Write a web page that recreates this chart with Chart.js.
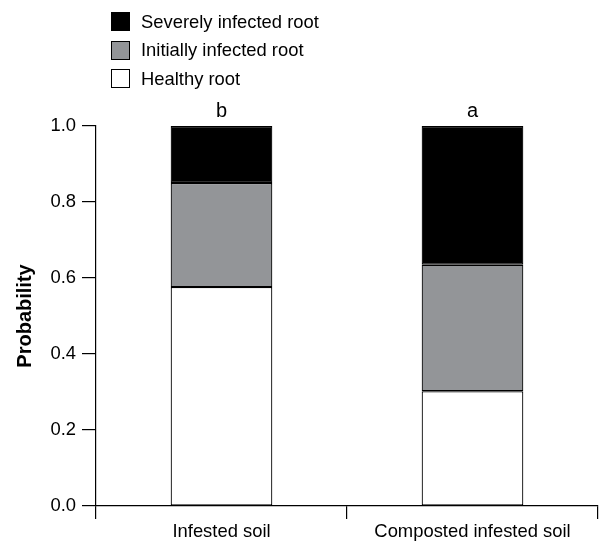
<!DOCTYPE html>
<html>
<head>
<meta charset="utf-8">
<script src="https://cdn.jsdelivr.net/npm/chart.js@4.4.1/dist/chart.umd.min.js"></script>
<style>
  html, body { margin: 0; padding: 0; background: #fff; }
  #wrap { position: relative; width: 601px; height: 543px; }
  #legend { position: absolute; left: 111px; top: 7.5px; font: 18.4px "Liberation Sans", Arial, sans-serif; color: #000; }
  .item { display: flex; align-items: center; height: 28.6px; }
  .box { width: 17px; height: 17px; border: 1px solid #000; margin-right: 11px; }
</style>
</head>
<body>
<div id="wrap">
  <canvas id="chart" width="601" height="543"></canvas>
  <div id="legend"></div>
</div>
<script>
// stacked probabilities
const categories = ["Infested soil", "Composted infested soil"];
const healthy = [0.576, 0.302];
const initiallyInfected = [0.274, 0.333];
const severelyInfected = [0.150, 0.365];
const sigLetters = ["b", "a"];
const yTicks = [0, 0.2, 0.4, 0.6, 0.8, 1.0];

const FONT = "'Liberation Sans', Arial, sans-serif";

const datasets = [
  { label: "Healthy root", data: healthy, backgroundColor: "#ffffff" },
  { label: "Initially infected root", data: initiallyInfected, backgroundColor: "#939598" },
  { label: "Severely infected root", data: severelyInfected, backgroundColor: "#000000" },
].map((d) => ({
  ...d,
  borderColor: "#000",
  borderWidth: 1.2,
  borderSkipped: false,
  barPercentage: 0.405,
  categoryPercentage: 1,
}));

// legend, top entry first
document.getElementById("legend").innerHTML = datasets
  .slice()
  .reverse()
  .map(
    (d) =>
      `<div class="item"><span class="box" style="background:${d.backgroundColor}"></span>${d.label}</div>`
  )
  .join("");

const letterPlugin = {
  id: "letters",
  afterDatasetsDraw(chart) {
    const ctx = chart.ctx;
    const x = chart.scales.x;
    const y = chart.scales.y;
    ctx.save();
    ctx.fillStyle = "#000";
    ctx.font = "20px " + FONT;
    ctx.textAlign = "center";
    ctx.textBaseline = "alphabetic";
    sigLetters.forEach((s, i) => {
      ctx.fillText(s, x.getPixelForValue(i), y.getPixelForValue(1) - 9);
    });
    ctx.restore();
  },
};

new Chart(document.getElementById("chart"), {
  type: "bar",
  data: { labels: categories, datasets },
  plugins: [letterPlugin],
  options: {
    responsive: false,
    animation: false,
    layout: { padding: { top: 126, right: 3, left: 0, bottom: 0 } },
    plugins: { legend: { display: false }, tooltip: { enabled: false } },
    scales: {
      x: {
        stacked: true,
        offset: true,
        border: { display: true, color: "#000", width: 1.2 },
        grid: { display: true, offset: true, drawOnChartArea: false, tickLength: 13, color: "#000", lineWidth: 1.2 },
        ticks: { color: "#000", font: { family: FONT, size: 18.4 }, padding: 2, maxRotation: 0 },
        afterFit(s) { s.height = 37; },
      },
      y: {
        stacked: true,
        min: 0,
        max: 1,
        afterBuildTicks(s) { s.ticks = yTicks.map((v) => ({ value: v })); },
        border: { display: true, color: "#000", width: 1.2 },
        grid: { display: true, drawOnChartArea: false, tickLength: 14, color: "#000", lineWidth: 1.2 },
        ticks: {
          color: "#000",
          font: { family: FONT, size: 18.4 },
          padding: 6,
          callback: (v) => Number(v).toFixed(1),
        },
        title: {
          display: true,
          text: "Probability",
          color: "#000",
          font: { family: FONT, size: 20, weight: "bold" },
          padding: { top: 13, bottom: 0 },
        },
        afterFit(s) { s.width = 96; },
      },
    },
  },
});
</script>
</body>
</html>
